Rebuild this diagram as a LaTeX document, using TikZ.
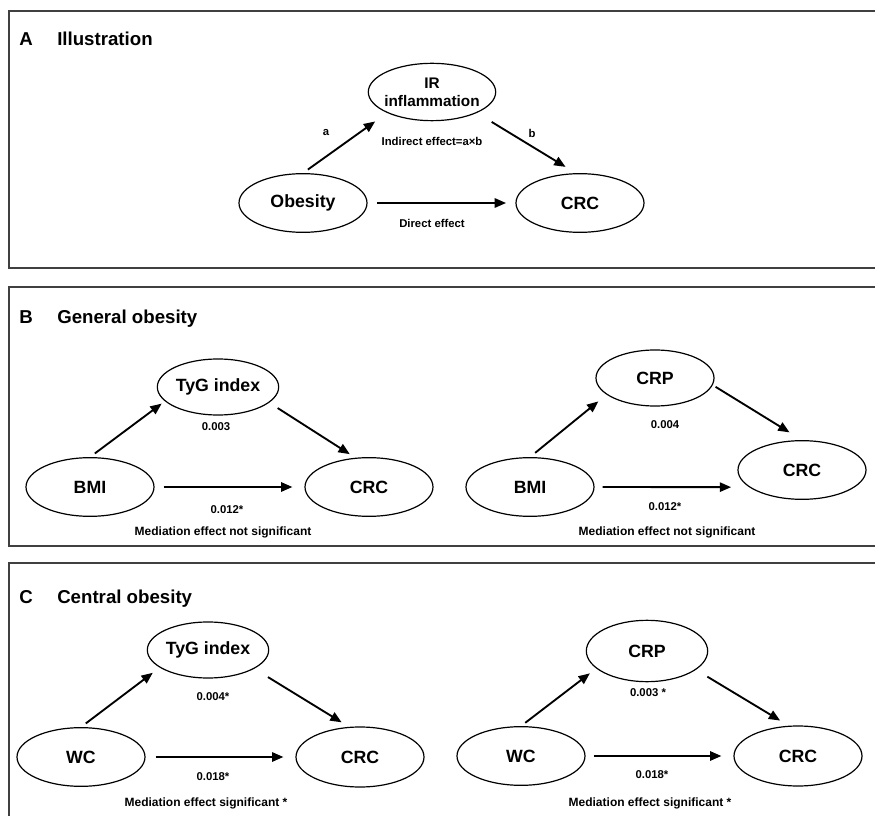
\documentclass[tikz,border=0pt]{standalone}
\usepackage{fontspec}
\setmainfont{Liberation Sans}
\usetikzlibrary{shapes.geometric,arrows.meta}

\begin{document}
\begin{tikzpicture}[x=0.75pt,y=-0.75pt,
    var/.style={draw, ellipse, line width=0.9pt, minimum width=96pt, minimum height=44pt, inner sep=0pt, font=\fontsize{13.3}{15}\selectfont\bfseries},
    med/.style={var, minimum width=91pt, minimum height=42pt},
    pfeil/.style={line width=1.4pt, -{Triangle[length=8.5pt,width=7pt]}},
    lab/.style={font=\fontsize{8.5}{10}\selectfont\bfseries},
    hinweis/.style={font=\fontsize{9}{11}\selectfont\bfseries},
    titel/.style={inner sep=0pt, font=\fontsize{14}{16}\selectfont\bfseries},
    rahmen/.style={draw=black!75, line width=1.1pt}]
    \useasboundingbox (0,0) rectangle (875,816);
    \clip (0,0) rectangle (875,816);

    % --- A: Illustration ---
    \draw[rahmen] (9,11) rectangle (890,268);
    \node[titel, anchor=base] (tA) at (26,46) {A};
    \node[titel, anchor=base west] (tA2) at (57,46) {Illustration};
    % Mediator und Variablen
    \node[med, align=center, font=\fontsize{11.5}{13.5}\selectfont\bfseries, minimum width=94.5pt, minimum height=43pt, inner xsep=-2pt] (ir) at (432,92) {IR\\inflammation};
    \node[var] (obes) at (303,203) {Obesity};
    \node[var] (crcA) at (580,203) {CRC};
    % Pfeile
    \draw[pfeil, shorten <=4.5pt, shorten >=11pt] (obes.north) -- (ir.-155);
    \draw[pfeil, shorten <=13pt, shorten >=9pt] (ir.-25) -- (crcA.98);
    \draw[pfeil, shorten <=7pt, shorten >=7pt] (obes.east) -- (crcA.west);
    \node[lab] (la) at (326,133) {a};
    \node[lab] (lb) at (532,133) {b};
    \node[lab] (lind) at (432,141) {Indirect effect=a×b};
    \node[lab] (ldir) at (432,223) {Direct effect};

    % --- B: General obesity ---
    \draw[rahmen] (9,287) rectangle (890,546);
    \node[titel, anchor=base] (tB) at (26,324) {B};
    \node[titel, anchor=base west] (tB2) at (57,324) {General obesity};
    % links: TyG index
    \node[med] (tyg1) at (218,387) {TyG index};
    \node[var] (bmi1) at (90,487) {BMI};
    \node[var] (crc1) at (369,487) {CRC};
    \draw[pfeil, shorten <=4.5pt, shorten >=3pt] (bmi1.north) -- (tyg1.-165);
    \draw[pfeil, shorten <=7.5pt, shorten >=5pt] (tyg1.-17) -- (crc1.115);
    \draw[pfeil, shorten <=6.75pt, shorten >=9pt] (bmi1.east) -- (crc1.west);
    \node[lab] (wB1) at (216,427) {0.003};
    \node[lab] (wB2) at (227,510) {0.012*};
    \node[hinweis] (hB1) at (223,532) {Mediation effect not significant};
    % rechts: CRP
    \node[med, minimum width=88.5pt] (crp1) at (655,378) {CRP};
    \node[var] (bmi2) at (530,487) {BMI};
    \node[var] (crc2) at (802,470) {CRC};
    \draw[pfeil, shorten <=5pt, shorten >=8pt] (bmi2.north) -- (crp1.-161);
    \draw[pfeil, shorten <=2.5pt, shorten >=11pt] (crp1.-7) -- (crc2.north);
    \draw[pfeil, shorten <=6pt, shorten >=13.5pt] (bmi2.east) -- (crc2.-162);
    \node[lab] (wB3) at (665,425) {0.004};
    \node[lab] (wB4) at (665,507) {0.012*};
    \node[hinweis] (hB2) at (667,532) {Mediation effect not significant};

    % --- C: Central obesity ---
    \draw[rahmen] (9,563) rectangle (890,830);
    \node[titel, anchor=base] (tC) at (26,603) {C};
    \node[titel, anchor=base west] (tC2) at (57,603) {Central obesity};
    % links: TyG index
    \node[med] (tyg2) at (208,650) {TyG index};
    \node[var] (wc1) at (81,757) {WC};
    \node[var, minimum height=45pt] (crc3) at (360,757) {CRC};
    \draw[pfeil, shorten <=4.5pt, shorten >=6.5pt] (wc1.north) -- (tyg2.-160);
    \draw[pfeil, shorten <=12pt, shorten >=6.5pt] (tyg2.-22) -- (crc3.110);
    \draw[pfeil, shorten <=7.5pt, shorten >=9pt] (wc1.east) -- (crc3.west);
    \node[lab] (wC1) at (213,697) {0.004*};
    \node[lab] (wC2) at (213,777) {0.018*};
    \node[hinweis] (hC1) at (206,803) {Mediation effect significant *};
    % rechts: CRP
    \node[med, minimum width=91pt, minimum height=46pt] (crp2) at (647,651) {CRP};
    \node[var] (wc2) at (521,756) {WC};
    \node[var, minimum height=45pt] (crc4) at (798,756) {CRC};
    \draw[pfeil, shorten <=4pt, shorten >=6pt] (wc2.north) -- (crp2.-161);
    \draw[pfeil, shorten <=10pt, shorten >=7.5pt] (crp2.-21) -- (crc4.107);
    \draw[pfeil, shorten <=6pt, shorten >=9pt] (wc2.east) -- (crc4.west);
    \node[lab] (wC3) at (648,693) {0.003 *};
    \node[lab] (wC4) at (652,775) {0.018*};
    \node[hinweis] (hC2) at (650,803) {Mediation effect significant *};
\end{tikzpicture}
\end{document}
